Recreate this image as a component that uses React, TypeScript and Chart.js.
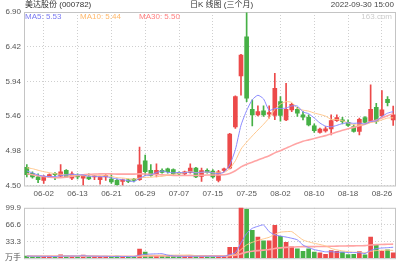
import React, { useEffect, useRef } from 'react';
import { Chart, registerables } from 'chart.js';

Chart.register(...registerables);

// ---------- data ----------
const dates = [
  '05-30', '05-31', '06-01', '06-02', '06-06', '06-07', '06-08', '06-09', '06-10', '06-13',
  '06-14', '06-15', '06-16', '06-17', '06-20', '06-21', '06-22', '06-23', '06-24', '06-27',
  '06-28', '06-29', '06-30', '07-01', '07-04', '07-05', '07-06', '07-07', '07-08', '07-11',
  '07-12', '07-13', '07-14', '07-15', '07-18', '07-19', '07-20', '07-21', '07-22', '07-25',
  '07-26', '07-27', '07-28', '07-29', '08-01', '08-02', '08-03', '08-04', '08-05', '08-08',
  '08-09', '08-10', '08-11', '08-12', '08-15', '08-16', '08-17', '08-18', '08-19', '08-22',
  '08-23', '08-24', '08-25', '08-26', '08-29', '08-30',
];

const tickLabels = ['06-02', '06-13', '06-21', '06-29', '07-07', '07-15', '07-25', '08-02', '08-10', '08-18', '08-26'];

const opens = [
  4.75, 4.67, 4.62, 4.57, 4.62, 4.67, 4.63, 4.71, 4.60, 4.64,
  4.60, 4.62, 4.62, 4.58, 4.62, 4.59, 4.57, 4.555, 4.58, 4.59,
  4.58, 4.84, 4.71, 4.65, 4.71, 4.73, 4.72, 4.68, 4.66, 4.68,
  4.74, 4.625, 4.71, 4.70, 4.57, 4.71, 4.74, 5.31, 6.015, 6.558,
  5.555, 5.477, 5.532, 5.486, 5.47, 5.661, 5.408, 5.546, 5.555, 5.477,
  5.444, 5.325, 5.233, 5.256, 5.283, 5.398, 5.408, 5.375, 5.316, 5.247,
  5.44, 5.385, 5.583, 5.463, 5.693, 5.408,
];
const highs = [
  4.79, 4.69, 4.66, 4.64, 4.66, 4.68, 4.79, 4.72, 4.69, 4.66,
  4.65, 4.66, 4.64, 4.62, 4.65, 4.65, 4.59, 4.59, 4.59, 4.60,
  5.03, 4.92, 4.79, 4.80, 4.73, 4.74, 4.73, 4.69, 4.70, 4.80,
  4.75, 4.74, 4.73, 4.72, 4.71, 4.74, 5.22, 5.74, 6.314, 6.89,
  5.684, 5.601, 5.601, 5.601, 6.052, 5.73, 5.914, 5.638, 5.583, 5.523,
  5.477, 5.352, 5.293, 5.316, 5.477, 5.477, 5.444, 5.408, 5.339, 5.431,
  5.454, 5.891, 5.638, 5.813, 5.73, 5.60,
];
const lows = [
  4.62, 4.60, 4.54, 4.53, 4.61, 4.58, 4.62, 4.61, 4.58, 4.59,
  4.50, 4.58, 4.58, 4.52, 4.57, 4.53, 4.50, 4.50, 4.54, 4.55,
  4.57, 4.64, 4.63, 4.62, 4.67, 4.67, 4.64, 4.65, 4.65, 4.67,
  4.61, 4.556, 4.67, 4.60, 4.55, 4.69, 4.73, 5.29, 5.75, 5.661,
  5.325, 5.463, 5.454, 5.431, 5.41, 5.39, 5.398, 5.523, 5.454, 5.408,
  5.325, 5.233, 5.223, 5.237, 5.20, 5.385, 5.352, 5.316, 5.237, 5.20,
  5.366, 5.371, 5.36, 5.454, 5.60, 5.33,
];
const closes = [
  4.65, 4.62, 4.58, 4.62, 4.65, 4.65, 4.69, 4.62, 4.66, 4.62,
  4.64, 4.59, 4.63, 4.62, 4.64, 4.55, 4.51, 4.58, 4.555, 4.57,
  4.785, 4.69, 4.64, 4.71, 4.68, 4.69, 4.66, 4.66, 4.69, 4.74,
  4.62, 4.708, 4.68, 4.62, 4.69, 4.73, 5.21, 5.73, 6.305, 5.707,
  5.477, 5.523, 5.477, 5.509, 5.845, 5.47, 5.555, 5.624, 5.50, 5.444,
  5.339, 5.26, 5.279, 5.283, 5.398, 5.44, 5.385, 5.33, 5.247, 5.417,
  5.371, 5.555, 5.385, 5.546, 5.647, 5.477,
];
// volume in 万手
const volumes = [
  4.3, 3.5, 3.8, 3.2, 3.5, 3.0, 6.6, 4.2, 3.8, 3.5,
  6.0, 3.2, 3.0, 3.2, 3.8, 3.5, 4.0, 2.5, 2.8, 3.0,
  18.0, 12.0, 5.5, 5.0, 3.8, 4.2, 4.0, 3.0, 3.2, 5.0,
  4.3, 3.7, 3.2, 3.5, 4.0, 3.7, 21.5, 21.5, 101, 96.8,
  55.3, 41.7, 34.5, 34.5, 65.4, 43.5, 31.6, 22.7, 18.5, 13.8,
  18.5, 12.0, 10.8, 7.8, 15.0, 13.8, 12.0, 7.2, 7.8, 13.2,
  6.6, 41.7, 25.6, 13.8, 16.7, 10.8,
];
// earlier sessions (before the visible window), only used for the moving averages
const prevCloses = [
  4.98, 5.02, 4.96, 4.90, 4.85, 4.70, 4.40, 4.30, 4.28, 4.35,
  4.42, 4.50, 4.55, 4.58, 4.60, 4.62, 4.58, 4.55, 4.60, 4.66,
  4.74, 4.80, 4.82, 4.78, 4.80, 4.76, 4.72, 4.70, 4.68,
];
const prevVolumes = [
  5.2, 4.8, 6.1, 5.5, 4.9, 4.4, 5.0, 4.6, 4.2, 5.3,
  4.7, 4.1, 3.9, 4.5, 4.0, 3.8, 4.3, 4.6, 3.9, 4.1,
  3.7, 4.4, 4.0, 3.6, 4.2, 3.9, 4.5, 4.1, 3.8,
];
const maPeriods = [5, 10, 30];
const maLabels = ['MA5: 5.53', 'MA10: 5.44', 'MA30: 5.50'];
const priceTicks = [4.5, 4.98, 5.46, 5.94, 6.42, 6.9];
const volumeTicks = [0, 33.3, 66.6, 99.9];

// ---------- style ----------
const RED = '#ec4a4a';
const GREEN = '#46b046';
const MA_LINE = ['#8a8aff', '#ffc78c', '#ffa4a4'];
const MA_TEXT = ['#7a7af2', '#ffb86a', '#ff8080'];
const MA_WIDTH = [1, 1, 1.6];
const GRID = '#cfcfcf';
const FRAME = '#c4c4c4';
const FONT = '"Liberation Sans", Arial, "Noto Sans CJK SC", sans-serif';
const LABEL = '#555';

function movingAvg(series: number[], prev: number[], n: number) {
  const all = [...prev, ...series];
  const off = prev.length;
  return series.map((_, i) => {
    let s = 0;
    for (let k = 0; k < n; k++) s += all[off + i - k];
    return s / n;
  });
}

const framePlugin = {
  id: 'frame',
  beforeDatasetsDraw(chart: any) {
    const { ctx, chartArea: a } = chart;
    ctx.save();
    ctx.strokeStyle = FRAME;
    ctx.lineWidth = 1;
    ctx.strokeRect(a.left + 0.5, a.top + 0.5, a.right - a.left - 1, a.bottom - a.top);
    ctx.restore();
  },
};

const xGridColor = (ctx: any) =>
  tickLabels.includes(dates[ctx.index]) ? GRID : 'rgba(0,0,0,0)';

export default function App() {
  const priceRef = useRef<HTMLCanvasElement>(null);
  const volRef = useRef<HTMLCanvasElement>(null);

  useEffect(() => {
    const colors = closes.map((c, i) => (c >= opens[i] ? RED : GREEN));
    const bodies = closes.map((c, i) => [opens[i], c]);
    const wicks = closes.map((_, i) => [lows[i], highs[i]]);
    const priceMAs = maPeriods.map((n) => movingAvg(closes, prevCloses, n));
    const volMAs = maPeriods.map((n) => movingAvg(volumes, prevVolumes, n));

    const lineSets = (mas: number[][]) =>
      mas.map((d, k) => ({
        type: 'line' as const,
        data: d,
        borderColor: MA_LINE[k],
        borderWidth: MA_WIDTH[k],
        pointRadius: 0,
        tension: 0.2,
        fill: false,
        order: 0,
      }));

    const tickFont = { family: FONT, size: 8 };

    const pc = new Chart(priceRef.current!, {
      type: 'bar',
      data: {
        labels: dates,
        datasets: [
          ...lineSets(priceMAs),
          {
            type: 'bar',
            data: wicks as any,
            backgroundColor: colors,
            barThickness: 1,
            grouped: false,
            order: 2,
          },
          {
            type: 'bar',
            data: bodies as any,
            backgroundColor: colors,
            barThickness: 4,
            minBarLength: 1,
            grouped: false,
            order: 1,
          },
        ] as any,
      },
      options: {
        animation: false,
        responsive: false,
        maintainAspectRatio: false,
        layout: { padding: { top: 12, right: 4, left: 0, bottom: 0 } },
        plugins: { legend: { display: false }, tooltip: { enabled: false } },
        scales: {
          x: {
            offset: true,
            grid: { offset: false, color: xGridColor, drawTicks: false, lineWidth: 1 },
            border: { display: false, dash: [1, 2] },
            ticks: {
              autoSkip: false,
              maxRotation: 0,
              minRotation: 0,
              padding: 3,
              color: LABEL,
              font: tickFont,
              callback: (_v: any, i: number) => (tickLabels.includes(dates[i]) ? dates[i] : ''),
            },
            afterFit: (s: any) => {
              s.height = 14.5;
            },
          },
          y: {
            min: 4.5,
            max: 6.9,
            afterBuildTicks: (s: any) => {
              s.ticks = priceTicks.map((v) => ({ value: v }));
            },
            grid: { color: GRID, drawTicks: false },
            border: { display: false, dash: [1, 2] },
            ticks: {
              padding: 3,
              color: LABEL,
              font: tickFont,
              callback: (v: any) => Number(v).toFixed(2),
            },
            afterFit: (s: any) => {
              s.width = 24;
            },
          },
        },
      } as any,
      plugins: [framePlugin],
    });

    const vc = new Chart(volRef.current!, {
      type: 'bar',
      data: {
        labels: dates,
        datasets: [
          ...lineSets(volMAs),
          {
            type: 'bar',
            data: volumes,
            backgroundColor: colors,
            barThickness: 4,
            grouped: false,
            order: 1,
          },
        ] as any,
      },
      options: {
        animation: false,
        responsive: false,
        maintainAspectRatio: false,
        layout: { padding: { top: 2, right: 4, left: 0, bottom: 0 } },
        plugins: { legend: { display: false }, tooltip: { enabled: false } },
        scales: {
          x: {
            offset: true,
            grid: { offset: false, color: xGridColor, drawTicks: false },
            border: { display: false, dash: [1, 2] },
            ticks: { display: false, autoSkip: false },
            afterFit: (s: any) => {
              s.height = 6.5;
            },
          },
          y: {
            min: 0,
            max: 99.9,
            afterBuildTicks: (s: any) => {
              s.ticks = volumeTicks.map((v) => ({ value: v }));
            },
            grid: {
              color: (c: any) => (c.tick && c.tick.value > 0 && c.tick.value < 99.9 ? GRID : 'rgba(0,0,0,0)'),
              drawTicks: false,
            },
            border: { display: false, dash: [1, 2] },
            ticks: {
              padding: 3,
              color: LABEL,
              font: { family: FONT, size: 8 },
              callback: (v: any) => (Number(v) === 0 ? '万手' : Number(v).toFixed(1)),
            },
            afterFit: (s: any) => {
              s.width = 24;
            },
          },
        },
      } as any,
      plugins: [framePlugin],
    });

    return () => {
      pc.destroy();
      vc.destroy();
    };
  }, []);

  const txt = (left: number | null, top: number, color: string, right?: number): React.CSSProperties => ({
    position: 'absolute',
    top,
    ...(left !== null ? { left } : {}),
    ...(right !== undefined ? { right } : {}),
    color,
    font: `8px ${FONT}`,
    lineHeight: '8px',
    whiteSpace: 'nowrap',
  });

  return (
    <div
      style={{
        position: 'absolute',
        left: 0,
        top: 0,
        width: 400,
        height: 266,
        background: '#fff',
        overflow: 'hidden',
      }}
    >
      <canvas
        ref={priceRef}
        width={400}
        height={200}
        style={{ position: 'absolute', left: 0, top: 0, width: 400, height: 200 }}
      />
      <canvas
        ref={volRef}
        width={400}
        height={66}
        style={{ position: 'absolute', left: 0, top: 200, width: 400, height: 66 }}
      />
      <div style={txt(25, 1, '#333')}>美达股份 (000782)</div>
      <div style={txt(190, 1, '#333')}>日K 线图 (三个月)</div>
      <div style={txt(null, 1, '#444', 6)}>2022-09-30 15:00</div>
      <div style={txt(25, 12.7, MA_TEXT[0])}>{maLabels[0]}</div>
      <div style={txt(80, 12.7, MA_TEXT[1])}>{maLabels[1]}</div>
      <div style={txt(139, 12.7, MA_TEXT[2])}>{maLabels[2]}</div>
      <div style={txt(null, 12.7, '#cccccc', 8)}>163.com</div>
    </div>
  );
}
